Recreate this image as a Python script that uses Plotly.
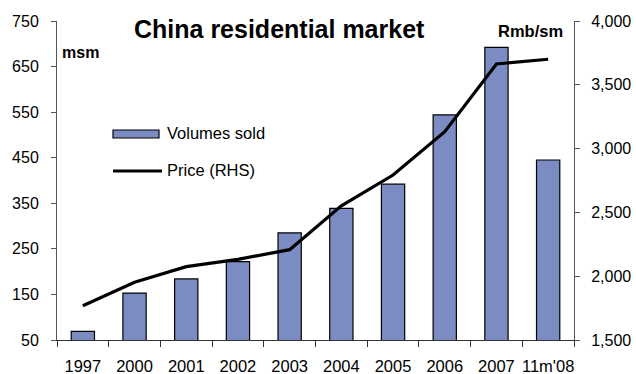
import plotly.graph_objects as go

categories = ["1997", "2000", "2001", "2002", "2003", "2004", "2005", "2006", "2007", "11m'08"]
volumes = [69, 153, 184, 222, 285, 339, 392, 544, 692, 445]
price = [1769, 1952, 2075, 2132, 2208, 2552, 2793, 3132, 3663, 3700]
left_ticks = [50, 150, 250, 350, 450, 550, 650, 750]
right_ticks = [1500, 2000, 2500, 3000, 3500, 4000]

FONT = "Liberation Sans, Arial, sans-serif"
BAR_COLOR = "#7B8CC2"

fig = go.Figure()
fig.add_trace(go.Bar(
    x=categories, y=volumes, name="Volumes sold",
    marker=dict(color=BAR_COLOR, line=dict(color="#000000", width=1.2)),
    width=0.45, yaxis="y", showlegend=False,
))
fig.add_trace(go.Scatter(
    x=categories, y=price, name="Price (RHS)", mode="lines",
    line=dict(color="#000000", width=3.2), yaxis="y2", showlegend=False,
))

L, R, T, B = 57, 62, 21, 34
W, H = 636, 374
pw, ph = W - L - R, H - T - B

def px(x):
    return (x - L) / pw

def py(y):
    return (H - B - y) / ph

fig.update_layout(
    width=W, height=H,
    margin=dict(l=L, r=R, t=T, b=B, autoexpand=False),
    paper_bgcolor="white", plot_bgcolor="white",
    font=dict(family=FONT, size=16, color="#000000"),
    bargap=0.55,
    xaxis=dict(
        type="category", tickson="boundaries", ticks="outside", ticklen=6,
        tickcolor="#333333", showline=True, linecolor="#333333", linewidth=1,
        showgrid=False, tickfont=dict(size=16.5), ticklabelstandoff=11,
        tickangle=0, automargin=False,
    ),
    yaxis=dict(
        range=[50, 750], tickvals=left_ticks, ticks="outside", ticklen=5,
        tickcolor="#555555", showline=True, linecolor="#555555", linewidth=1,
        showgrid=False, zeroline=False, tickfont=dict(size=16), ticklabelstandoff=9,
        automargin=False,
    ),
    yaxis2=dict(
        range=[1500, 4000], tickvals=right_ticks, tickformat=",", overlaying="y",
        side="right", ticks="outside", ticklen=5, tickcolor="#555555",
        showline=True, linecolor="#555555", linewidth=1, showgrid=False,
        zeroline=False, tickfont=dict(size=16), ticklabelstandoff=8,
        automargin=False,
    ),
    showlegend=False,
)

# Title and axis unit labels
fig.add_annotation(text="<b>China residential market</b>", xref="paper", yref="paper",
                   x=px(279), y=py(29), xanchor="center", yanchor="middle",
                   showarrow=False, font=dict(size=25, family=FONT))
fig.add_annotation(text="<b>msm</b>", xref="paper", yref="paper",
                   x=px(60), y=py(53), xanchor="left", yanchor="middle",
                   showarrow=False, font=dict(size=16, family=FONT))
fig.add_annotation(text="<b>Rmb/sm</b>", xref="paper", yref="paper",
                   x=px(565), y=py(31), xanchor="right", yanchor="middle",
                   showarrow=False, font=dict(size=16.5, family=FONT))

# Custom legend
fig.add_shape(type="rect", xref="paper", yref="paper",
              x0=px(113), x1=px(159), y0=py(138), y1=py(130),
              fillcolor=BAR_COLOR, line=dict(color="#000000", width=1.2))
fig.add_shape(type="line", xref="paper", yref="paper",
              x0=px(113), x1=px(162), y0=py(171), y1=py(171),
              line=dict(color="#000000", width=3.2))
fig.add_annotation(text="Volumes sold", xref="paper", yref="paper",
                   x=px(165), y=py(133), xanchor="left", yanchor="middle",
                   showarrow=False, font=dict(size=16.5, family=FONT))
fig.add_annotation(text="Price (RHS)", xref="paper", yref="paper",
                   x=px(165), y=py(170), xanchor="left", yanchor="middle",
                   showarrow=False, font=dict(size=16.5, family=FONT))

fig.write_html("out.html")
